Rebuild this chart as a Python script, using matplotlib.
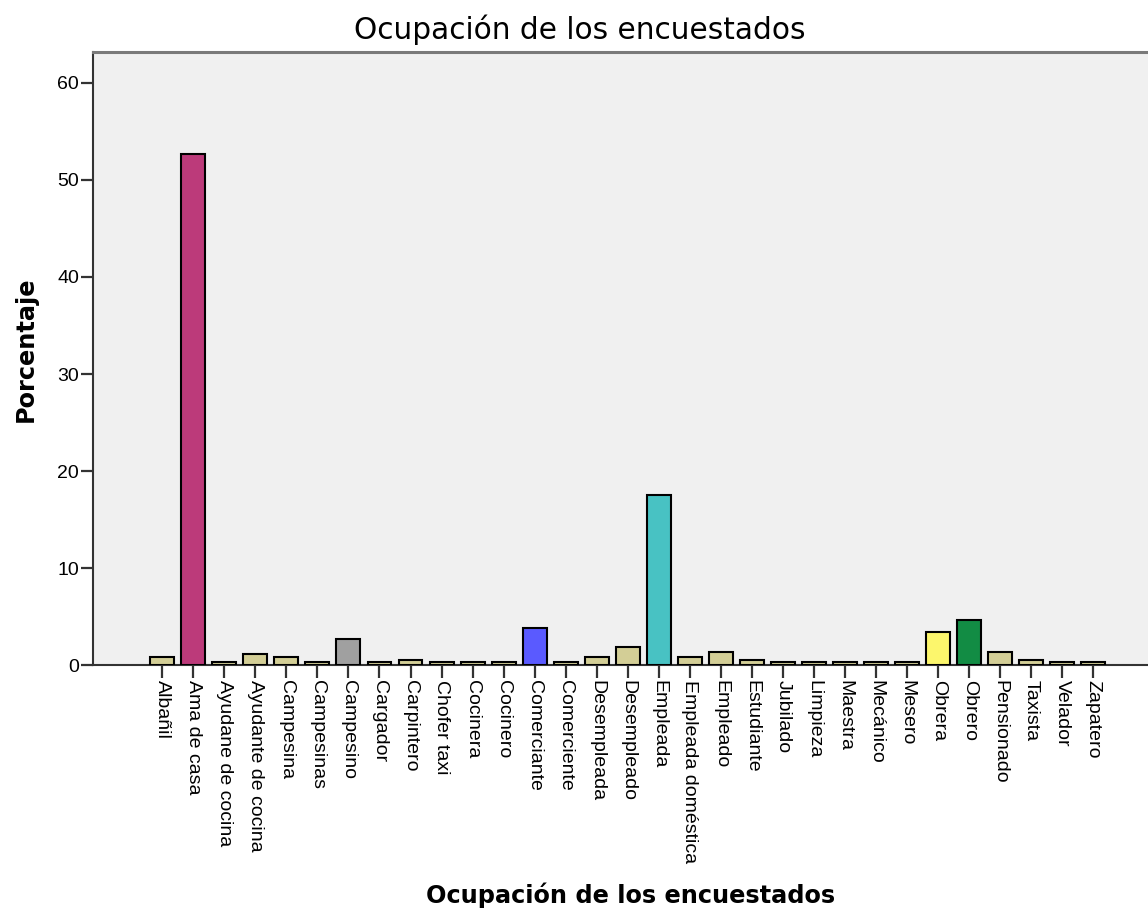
import matplotlib
matplotlib.use("Agg")
import matplotlib.pyplot as plt
import numpy as np

# ─── datos ────────────────────────────────────────────────────────────────────
categorias = [
    "Albañil", "Ama de casa", "Ayudane de cocina", "Ayudante de cocina",
    "Campesina", "Campesinas", "Campesino", "Cargador", "Carpintero",
    "Chofer taxi", "Cocinera", "Cocinero", "Comerciante", "Comerciente",
    "Desempleada", "Desempleado", "Empleada", "Empleada doméstica",
    "Empleado", "Estudiante", "Jubilado", "Limpieza", "Maestra", "Mecánico",
    "Mesero", "Obrera", "Obrero", "Pensionado", "Taxista", "Velador",
    "Zapatero",
]
porcentaje = [
    0.8, 52.7, 0.27, 1.1,
    0.8, 0.27, 2.7, 0.27, 0.54,
    0.27, 0.27, 0.27, 3.8, 0.27,
    0.8, 1.9, 17.5, 0.8,
    1.35, 0.54, 0.27, 0.27, 0.27, 0.27,
    0.27, 3.4, 4.6, 1.35, 0.54, 0.27,
    0.27,
]
yticks = [0, 10, 20, 30, 40, 50, 60]

# colores especiales por categoría (el resto usa el color base)
COLOR_BASE = "#D3CE96"
colores_especiales = {
    "Ama de casa": "#BC3A7A",
    "Campesino": "#A0A0A0",
    "Comerciante": "#5A5AFF",
    "Empleada": "#48C2C3",
    "Obrera": "#FCF66C",
    "Obrero": "#128C44",
}
colores = [colores_especiales.get(c, COLOR_BASE) for c in categorias]

# ─── figura ───────────────────────────────────────────────────────────────────
fig = plt.figure(figsize=(11.48, 9.11), dpi=100)
ax = fig.add_axes([0.081, 0.270, 0.919, 0.673])
ax.set_facecolor("#F0F0F0")

x = np.arange(len(categorias))
ax.bar(x, porcentaje, width=0.77, color=colores, edgecolor="black",
       linewidth=1.5, zorder=3)

ax.set_xlim(-2.23, 31.76)
ax.set_ylim(0, 63.2)
ax.set_yticks(yticks)
ax.set_xticks(x)
ax.set_xticklabels(categorias, rotation=-90, ha="center", va="top",
                   family="Liberation Sans", fontsize=14)
ax.tick_params(axis="y", labelsize=14, length=9, width=1.6, pad=1,
               color="#333333")
ax.tick_params(axis="x", length=9, width=1.6, pad=2, color="#333333")
for lbl in ax.get_yticklabels():
    lbl.set_family("Liberation Sans")

ax.spines["right"].set_visible(False)
ax.spines["top"].set_color("#7A7A7A")
ax.spines["top"].set_linewidth(2.2)
for s in ("left", "bottom"):
    ax.spines[s].set_color("#333333")
    ax.spines[s].set_linewidth(1.5)

fig.text(0.505, 0.967, "Ocupación de los encuestados", ha="center",
         va="center", fontsize=21.3)
fig.text(0.549, 0.017, "Ocupación de los encuestados", ha="center",
         va="center", fontsize=17.3, fontweight="bold")
fig.text(0.022, 0.617, "Porcentaje", ha="center", va="center",
         rotation=90, fontsize=17.3, fontweight="bold")

plt.savefig("out.png", dpi=100)
plt.close()
